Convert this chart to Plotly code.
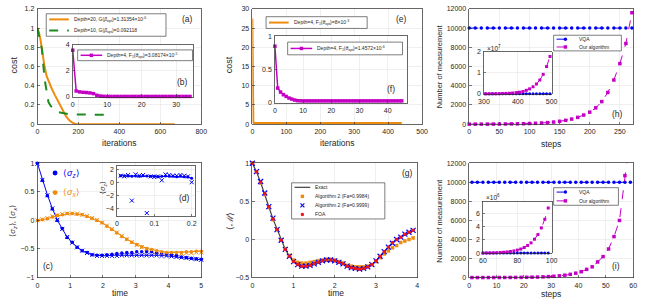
import plotly.graph_objects as go

W, H = 646, 305
FONT = "Liberation Sans, Arial, sans-serif"
AXC = "#262626"
GRID = "#E4E4E4"
ORANGE = "#EF8A0C"
GREEN = "#1F8A1F"
MAG = "#C400C4"
BLUE = "#0000F2"
RED = "#F21414"

# ---------------- data ----------------
# (a) cost vs iterations
a_iter_d20 = [0, 8, 15, 25, 35, 45, 55, 70, 86, 100, 115, 126, 140, 158, 175, 190, 200, 300, 400, 500, 600, 670]
a_cost_d20 = [1.0, 0.95, 0.88, 0.72, 0.60, 0.50, 0.44, 0.37, 0.30, 0.24, 0.18, 0.13, 0.08, 0.035, 0.01, 0.0, 0.0, 0.0, 0.0, 0.0, 0.0, 0.0]
a_iter_d10 = [0, 10, 22, 35, 45, 54, 65, 78, 90, 102, 120, 150, 200, 250, 300, 366]
a_cost_d10 = [1.0, 0.90, 0.78, 0.47, 0.32, 0.23, 0.19, 0.16, 0.135, 0.125, 0.115, 0.105, 0.10, 0.10, 0.098, 0.098]
# (b) inset
b_iter = list(range(0, 35))
b_cost = [3.6, 0.45, 0.38, 0.35, 0.33, 0.30, 0.25, 0.12, 0.06, 0.04, 0.03, 0.03, 0.03, 0.03, 0.03, 0.03, 0.03,
          0.03, 0.03, 0.03, 0.03, 0.03, 0.03, 0.03, 0.03, 0.03, 0.03, 0.03, 0.03, 0.03, 0.03, 0.03, 0.03, 0.03, 0.03]
# (e)
e_iter = [0, 1, 2, 3, 5, 10, 50, 100, 200, 300, 400, 440]
e_cost = [27.5, 8.0, 0.8, 0.4, 0.3, 0.3, 0.3, 0.3, 0.3, 0.3, 0.3, 0.3]
# (f) inset
f_iter = list(range(0, 46))
f_cost = [0.85, 0.22, 0.16, 0.12, 0.094, 0.07, 0.054, 0.04, 0.03, 0.028, 0.027, 0.027, 0.027, 0.027, 0.027, 0.027,
          0.027, 0.027, 0.027, 0.027, 0.027, 0.027, 0.027, 0.027, 0.027, 0.027, 0.027, 0.027, 0.027, 0.027, 0.027,
          0.027, 0.027, 0.027, 0.027, 0.027, 0.027, 0.027, 0.027, 0.027, 0.027, 0.027, 0.027, 0.027, 0.027, 0.027]
# (h) measurements
h_steps = [0, 10, 20, 30, 40, 50, 60, 70, 80, 90, 100, 110, 120, 130, 140, 150, 160, 170, 180, 190, 200, 210,
           220, 230, 240, 250, 260, 270]
h_vqa = [10000] * 28
h_ours = [3, 4, 6, 8, 10, 15, 20, 30, 40, 50, 70, 90, 120, 165, 220, 300, 400, 530, 710, 950, 1250, 1700, 2350,
          3300, 4600, 6300, 8400, 11600]
hi_steps = [305, 315, 325, 335, 345, 355, 365, 375, 385, 395, 405, 415, 425, 435, 445, 455, 465, 475, 485, 495]
hi_vqa = [10000] * 20
hi_ours = [3e4, 4e4, 6e4, 8e4, 1.1e5, 1.6e5, 2.2e5, 3.0e5, 4.2e5, 5.8e5, 8.0e5, 1.1e6, 1.7e6, 2.4e6, 3.4e6,
           4.7e6, 6.6e6, 9.3e6, 1.3e7, 1.78e7]
# (c) spin expectation values
c_time = [0.0, 0.152, 0.303, 0.455, 0.606, 0.758, 0.909, 1.061, 1.212, 1.364, 1.515, 1.667, 1.818, 1.970, 2.121,
          2.273, 2.424, 2.576, 2.727, 2.879, 3.030, 3.182, 3.333, 3.485, 3.636, 3.788, 3.939, 4.091, 4.242, 4.394,
          4.545, 4.697, 4.848, 5.0]
c_sz_exact = [1.0, 0.72, 0.45, 0.21, 0.01, -0.15, -0.29, -0.39, -0.47, -0.53, -0.57, -0.60, -0.61, -0.62, -0.62,
              -0.61, -0.61, -0.60, -0.60, -0.60, -0.60, -0.60, -0.60, -0.60, -0.61, -0.61, -0.62, -0.63, -0.64,
              -0.65, -0.66, -0.67, -0.68, -0.69]
c_sz_dots = [1.0, 0.70, 0.43, 0.20, 0.0, -0.14, -0.30, -0.38, -0.47, -0.53, -0.56, -0.60, -0.61, -0.61, -0.60,
             -0.59, -0.58, -0.57, -0.56, -0.56, -0.55, -0.55, -0.55, -0.55, -0.56, -0.57, -0.58, -0.60, -0.62,
             -0.64, -0.65, -0.66, -0.67, -0.68]
c_sz_cross = [0.99, 0.71, 0.44, 0.21, 0.01, -0.15, -0.29, -0.39, -0.47, -0.53, -0.57, -0.60, -0.62, -0.62, -0.62,
              -0.62, -0.62, -0.61, -0.61, -0.61, -0.61, -0.61, -0.61, -0.61, -0.61, -0.62, -0.62, -0.63, -0.64,
              -0.65, -0.66, -0.67, -0.68, -0.69]
c_sx_exact = [0.0, 0.01, 0.03, 0.06, 0.08, 0.10, 0.11, 0.12, 0.11, 0.10, 0.07, 0.04, 0.0, -0.04, -0.10, -0.16,
              -0.22, -0.28, -0.33, -0.38, -0.42, -0.46, -0.49, -0.51, -0.53, -0.55, -0.56, -0.56, -0.56, -0.56,
              -0.55, -0.55, -0.54, -0.54]
c_sx_dots = [0.0, 0.01, 0.03, 0.06, 0.09, 0.10, 0.12, 0.12, 0.11, 0.10, 0.07, 0.04, 0.0, -0.04, -0.10, -0.16,
             -0.22, -0.28, -0.33, -0.38, -0.42, -0.46, -0.49, -0.51, -0.53, -0.55, -0.56, -0.56, -0.56, -0.56,
             -0.55, -0.55, -0.54, -0.54]
c_sx_cross = [0.0, 0.02, 0.04, 0.07, 0.09, 0.11, 0.12, 0.12, 0.12, 0.10, 0.08, 0.04, 0.01, -0.04, -0.09, -0.15,
              -0.21, -0.27, -0.33, -0.38, -0.43, -0.47, -0.50, -0.53, -0.55, -0.57, -0.58, -0.58, -0.58, -0.58,
              -0.57, -0.57, -0.56, -0.56]
# (d) inset
d_time = [0.01, 0.02, 0.03, 0.04, 0.05, 0.06, 0.07, 0.08, 0.09, 0.10, 0.11, 0.12, 0.13, 0.14, 0.15, 0.16, 0.17,
          0.18, 0.19, 0.20]
d_dots = [1.0, 1.0, 0.95, 0.9, 0.95, 0.9, 1.0, 0.95, 0.9, 0.9, 0.85, 0.9, 0.95, 0.9, 0.9, 0.85, 0.9, 0.85, 0.8, 0.6]
d_cross = [1.0, 0.9, 1.1, -2.8, 1.2, 1.0, 1.1, -4.7, 0.9, 0.8, 0.9, 0.3, 1.2, 1.1, 1.0, 1.0, 1.1, 1.0, 0.9, 0.0]
# (g) magnetisation
g_time = [0.0, 0.1, 0.2, 0.3, 0.4, 0.5, 0.6, 0.7, 0.8, 0.9, 1.0, 1.1, 1.2, 1.3, 1.4, 1.5, 1.6, 1.7, 1.8, 1.9, 2.0,
          2.1, 2.2, 2.3, 2.4, 2.5, 2.6, 2.7, 2.8, 2.9, 3.0, 3.1, 3.2, 3.3, 3.4, 3.5, 3.6, 3.7, 3.8, 3.9]
g_exact = [1.0, 0.89, 0.75, 0.60, 0.43, 0.27, 0.13, -0.01, -0.13, -0.22, -0.29, -0.33, -0.35, -0.35, -0.34, -0.32,
           -0.30, -0.28, -0.27, -0.27, -0.28, -0.30, -0.32, -0.35, -0.37, -0.38, -0.39, -0.38, -0.36, -0.33, -0.28,
           -0.22, -0.16, -0.10, -0.04, 0.0, 0.03, 0.07, 0.095, 0.12]
g_alg_9984 = [1.0, 0.89, 0.74, 0.59, 0.42, 0.26, 0.13, -0.01, -0.12, -0.21, -0.27, -0.30, -0.31, -0.31, -0.30,
              -0.29, -0.28, -0.27, -0.26, -0.26, -0.27, -0.29, -0.31, -0.34, -0.35, -0.36, -0.36, -0.36, -0.35,
              -0.33, -0.29, -0.24, -0.19, -0.15, -0.11, -0.08, -0.04, -0.02, 0.0, 0.02]
g_alg_9999 = [1.0, 0.89, 0.76, 0.61, 0.43, 0.28, 0.13, -0.01, -0.13, -0.22, -0.29, -0.33, -0.35, -0.35, -0.34,
              -0.32, -0.30, -0.28, -0.27, -0.27, -0.28, -0.30, -0.32, -0.35, -0.37, -0.38, -0.39, -0.38, -0.36,
              -0.33, -0.28, -0.22, -0.16, -0.10, -0.05, 0.0, 0.03, 0.07, 0.095, 0.12]
g_foa = [1.0, 0.89, 0.75, 0.60, 0.43, 0.27, 0.13, -0.01, -0.13, -0.22, -0.29, -0.33, -0.35, -0.35, -0.34, -0.32,
         -0.30, -0.28, -0.27, -0.27, -0.28, -0.30, -0.32, -0.35, -0.37, -0.38, -0.39, -0.38, -0.36, -0.33, -0.28,
         -0.22, -0.16, -0.10, -0.04, 0.0, 0.03, 0.07, 0.095, 0.12]
# (i) measurements
i_steps = [1, 3, 5, 7, 9, 11, 13, 15, 17, 19, 21, 23, 25, 27, 29, 31, 33, 35, 37, 39, 41, 43, 45, 47, 49, 51, 53,
           55, 57, 59]
i_vqa = [10000] * 30
i_ours = [1.5, 2, 3, 4, 5, 7, 9, 12, 16, 22, 30, 40, 55, 75, 100, 137, 185, 250, 340, 460, 620, 860, 1130, 1640,
          2200, 3000, 4300, 6000, 10700, 15000]
ii_steps = [60, 62, 64, 66, 68, 70, 72, 74, 76, 78, 80, 82, 84, 86, 88, 90, 92, 94, 96, 98]
ii_vqa = [10000] * 20
ii_ours = [2e4, 3e4, 4e4, 5e4, 7e4, 1.0e5, 1.3e5, 1.8e5, 2.5e5, 3.4e5, 4.6e5, 6.2e5, 8.5e5, 1.15e6, 1.55e6,
           2.1e6, 2.8e6, 3.8e6, 5.1e6, 6.8e6]

# ---------------- layout helpers ----------------
def xd(a, b):
    return [a / W, b / W]


def yd(top, bottom):
    return [1 - bottom / H, 1 - top / H]


def axis(dom, rng, anchor, fs=7, **kw):
    d = dict(domain=dom, range=rng, anchor=anchor, showgrid=True, gridcolor=GRID, gridwidth=0.6,
             showline=True, mirror=True, linecolor=AXC, linewidth=0.7, ticks="inside", ticklen=2.5,
             tickwidth=0.6, tickcolor=AXC, tickfont=dict(size=fs, color=AXC, family=FONT),
             zeroline=False, fixedrange=True, layer="above traces", ticklabelstandoff=1)
    d.update(kw)
    return d


fig = go.Figure()

# (a)
fig.add_trace(go.Scatter(x=a_iter_d20, y=a_cost_d20, mode="lines", line=dict(color=ORANGE, width=2),
                         xaxis="x", yaxis="y"))
fig.add_trace(go.Scatter(x=a_iter_d10, y=a_cost_d10, mode="lines", line=dict(color=GREEN, width=2, dash="dash"),
                         xaxis="x", yaxis="y"))
# (b)
fig.add_trace(go.Scatter(x=b_iter, y=b_cost, mode="lines+markers", line=dict(color=MAG, width=1.5),
                         marker=dict(symbol="square", size=3.5, color=MAG), cliponaxis=False,
                         xaxis="x2", yaxis="y2"))
# (e)
fig.add_trace(go.Scatter(x=e_iter, y=e_cost, mode="lines", line=dict(color=ORANGE, width=2),
                         xaxis="x3", yaxis="y3"))
# (f)
fig.add_trace(go.Scatter(x=f_iter, y=f_cost, mode="lines+markers", line=dict(color=MAG, width=1.5),
                         marker=dict(symbol="square", size=3.5, color=MAG), cliponaxis=False,
                         xaxis="x4", yaxis="y4"))


def meas_traces(xs, vqa, ours, xa, ya, ymax, msize=3.5):
    fig.add_trace(go.Scatter(x=xs, y=vqa, mode="lines+markers", line=dict(color=BLUE, width=1, dash="dash"),
                             marker=dict(symbol="circle", size=msize, color=BLUE), cliponaxis=False,
                             xaxis=xa, yaxis=ya))
    fig.add_trace(go.Scatter(x=xs, y=ours, mode="lines", line=dict(color=MAG, width=1, dash="dash"),
                             xaxis=xa, yaxis=ya))
    keep = [(x, y) for x, y in zip(xs, ours) if y <= ymax]
    fig.add_trace(go.Scatter(x=[k[0] for k in keep], y=[k[1] for k in keep], mode="markers",
                             marker=dict(symbol="square", size=msize, color=MAG), cliponaxis=False,
                             xaxis=xa, yaxis=ya))


# (h)
meas_traces(h_steps, h_vqa, h_ours, "x5", "y5", 12000)
meas_traces(hi_steps, hi_vqa, hi_ours, "x6", "y6", 2e7, msize=3)
# (c)
fig.add_trace(go.Scatter(x=c_time, y=c_sz_exact, mode="lines", line=dict(color=BLUE, width=1),
                         xaxis="x7", yaxis="y7"))
fig.add_trace(go.Scatter(x=c_time, y=c_sx_exact, mode="lines", line=dict(color=ORANGE, width=1),
                         xaxis="x7", yaxis="y7"))
fig.add_trace(go.Scatter(x=c_time, y=c_sz_cross, mode="markers", marker=dict(symbol="x-thin", size=4,
                         line=dict(color=BLUE, width=1)), cliponaxis=False, xaxis="x7", yaxis="y7"))
fig.add_trace(go.Scatter(x=c_time, y=c_sx_cross, mode="markers", marker=dict(symbol="x-thin", size=4,
                         line=dict(color=ORANGE, width=1)), cliponaxis=False, xaxis="x7", yaxis="y7"))
fig.add_trace(go.Scatter(x=c_time, y=c_sz_dots, mode="markers", marker=dict(symbol="circle", size=3.5, color=BLUE),
                         cliponaxis=False, xaxis="x7", yaxis="y7"))
fig.add_trace(go.Scatter(x=c_time, y=c_sx_dots, mode="markers", marker=dict(symbol="circle", size=3.5, color=ORANGE),
                         cliponaxis=False, xaxis="x7", yaxis="y7"))
# (d)
fig.add_trace(go.Scatter(x=d_time, y=d_cross, mode="markers", marker=dict(symbol="x-thin", size=4,
                         line=dict(color=BLUE, width=1)), cliponaxis=False, xaxis="x8", yaxis="y8"))
fig.add_trace(go.Scatter(x=d_time, y=d_dots, mode="lines+markers", line=dict(color=BLUE, width=1),
                         marker=dict(symbol="circle", size=3, color=BLUE), cliponaxis=False,
                         xaxis="x8", yaxis="y8"))
# (g)
fig.add_trace(go.Scatter(x=g_time, y=g_exact, mode="lines", line=dict(color="#404040", width=1.2),
                         xaxis="x9", yaxis="y9"))
fig.add_trace(go.Scatter(x=g_time, y=g_alg_9984, mode="markers", marker=dict(symbol="square", size=3.5, color=ORANGE),
                         cliponaxis=False, xaxis="x9", yaxis="y9"))
fig.add_trace(go.Scatter(x=g_time, y=g_alg_9999, mode="markers", marker=dict(symbol="x-thin", size=5,
                         line=dict(color=BLUE, width=1.2)), cliponaxis=False, xaxis="x9", yaxis="y9"))
fig.add_trace(go.Scatter(x=g_time, y=g_foa, mode="markers", marker=dict(symbol="circle", size=3.5, color=RED),
                         cliponaxis=False, xaxis="x9", yaxis="y9"))
# (i)
meas_traces(i_steps, i_vqa, i_ours, "x10", "y10", 12000)
meas_traces(ii_steps, ii_vqa, ii_ours, "x11", "y11", 7.8e6, msize=3)

fig.update_traces(showlegend=False, hoverinfo="skip")

# ---------------- axes ----------------
R = {}
R["a"] = ([0, 800], [0, 1.2])
R["b"] = ([0, 35], [0, 4])
R["e"] = ([0, 500], [0, 30])
R["f"] = ([0, 47], [0, 1])
R["h"] = ([0, 272], [0, 12000])
R["hi"] = ([300, 500], [0, 2e7])
R["c"] = ([0, 5], [-1, 1])
R["d"] = ([0, 0.21], [-5.15, 2.45])
R["g"] = ([0, 4], [-0.5, 1])
R["i"] = ([0, 60], [0, 12000])
R["ii"] = ([60, 100], [0, 7.8e6])

layout_axes = dict(
    xaxis=axis(xd(32, 199), R["a"][0], "y", dtick=200),
    yaxis=axis(yd(5, 123), R["a"][1], "x", dtick=0.2),
    xaxis2=axis(xd(68, 191), R["b"][0], "y2", dtick=10),
    yaxis2=axis(yd(42, 95), R["b"][1], "x2", dtick=2),
    xaxis3=axis(xd(251, 424), R["e"][0], "y3", dtick=100),
    yaxis3=axis(yd(5, 123), R["e"][1], "x3", dtick=5),
    xaxis4=axis(xd(274, 409), R["f"][0], "y4", dtick=10),
    yaxis4=axis(yd(33, 101), R["f"][1], "x4", dtick=0.5),
    xaxis5=axis(xd(472, 639), R["h"][0], "y5", dtick=50),
    yaxis5=axis(yd(5, 123), R["h"][1], "x5", dtick=2000, tickformat="d"),
    xaxis6=axis(xd(487, 556), R["hi"][0], "y6", dtick=100),
    yaxis6=axis(yd(49, 92), R["hi"][1], "x6", tickvals=[0, 1e7, 2e7], ticktext=["0", "1", "2"]),
    xaxis7=axis(xd(32, 199), R["c"][0], "y7", dtick=1),
    yaxis7=axis(yd(163, 280), R["c"][1], "x7", dtick=0.5),
    xaxis8=axis(xd(113, 193), R["d"][0], "y8", dtick=0.1),
    yaxis8=axis(yd(166, 217), R["d"][1], "x8", tickvals=[-4, -2, 0, 2]),
    xaxis9=axis(xd(251, 419), R["g"][0], "y9", dtick=1),
    yaxis9=axis(yd(163, 280), R["g"][1], "x9", dtick=0.5),
    xaxis10=axis(xd(472, 639), R["i"][0], "y10", dtick=10),
    yaxis10=axis(yd(163, 280), R["i"][1], "x10", dtick=2000, tickformat="d"),
    xaxis11=axis(xd(486, 556), R["ii"][0], "y11", dtick=20),
    yaxis11=axis(yd(202, 255), R["ii"][1], "x11", tickvals=[0, 2e6, 4e6, 6e6], ticktext=["0", "2", "4", "6"]),
)

shapes = []
annots = []

# opaque backgrounds for inset axes
for key, n in [("b", 2), ("f", 4), ("hi", 6), ("d", 8), ("ii", 11)]:
    xr, yr = R[key]
    shapes.append(dict(type="rect", xref=f"x{n}", yref=f"y{n}", x0=xr[0], x1=xr[1], y0=yr[0], y1=yr[1],
                       fillcolor="white", line=dict(width=0), layer="below"))


def P(x, y):
    return x / W, 1 - y / H


def text(t, x, y, size=8, color=AXC, angle=0, xanchor="center", yanchor="middle"):
    px_, py_ = P(x, y)
    annots.append(dict(text=t, x=px_, y=py_, xref="paper", yref="paper", showarrow=False, textangle=angle,
                       xanchor=xanchor, yanchor=yanchor, font=dict(size=size, color=color, family=FONT)))


def legend_box(x0, y0, x1, y1, entries, L=15, fs=5, border=True):
    if border:
        a0, b0 = P(x0, y1)
        a1, b1 = P(x1, y0)
        shapes.append(dict(type="rect", xref="paper", yref="paper", x0=a0, x1=a1, y0=b0, y1=b1,
                           fillcolor="white", line=dict(color=AXC, width=0.6), layer="above"))
    n = len(entries)
    hrow = (y1 - y0) / n
    for i, e in enumerate(entries):
        cy = y0 + (i + 0.5) * hrow
        sx0 = x0 + 3
        sx1 = sx0 + L
        if e.get("line"):
            a0, b0 = P(sx0, cy)
            a1, _ = P(sx1, cy)
            shapes.append(dict(type="line", xref="paper", yref="paper", x0=a0, x1=a1, y0=b0, y1=b0,
                               line=dict(color=e["color"], width=e.get("width", 1), dash=e.get("dash", "solid")),
                               layer="above"))
        m = e.get("marker")
        if m:
            s = e.get("msize", 3.5) / 2
            cx = (sx0 + sx1) / 2
            mc = e.get("mcolor", e.get("color"))
            a0, b0 = P(cx - s, cy + s)
            a1, b1 = P(cx + s, cy - s)
            if m == "square":
                shapes.append(dict(type="rect", xref="paper", yref="paper", x0=a0, x1=a1, y0=b0, y1=b1,
                                   fillcolor=mc, line=dict(width=0), layer="above"))
            elif m == "circle":
                shapes.append(dict(type="circle", xref="paper", yref="paper", x0=a0, x1=a1, y0=b0, y1=b1,
                                   fillcolor=mc, line=dict(width=0), layer="above"))
            elif m == "x":
                shapes.append(dict(type="line", xref="paper", yref="paper", x0=a0, x1=a1, y0=b0, y1=b1,
                                   line=dict(color=mc, width=1.1), layer="above"))
                shapes.append(dict(type="line", xref="paper", yref="paper", x0=a0, x1=a1, y0=b1, y1=b0,
                                   line=dict(color=mc, width=1.1), layer="above"))
        text(e["text"], sx1 + 3, cy, size=e.get("fs", fs), color=e.get("tcolor", AXC), xanchor="left")


legend_box(41, 10, 163, 33, [
    dict(text="Depth=20, G(<i>β</i><sub>opt</sub>)=1.31354×10<sup>-6</sup>", line=True, color=ORANGE, width=2),
    dict(text="Depth=10, G(<i>β</i><sub>opt</sub>)=0.092118", line=True, color=GREEN, width=2, dash="dash"),
], L=20)
legend_box(73, 47, 190, 58, [
    dict(text="Depth=4, F<sub>1</sub>(<i>θ</i><sub>opt</sub>)=3.08174×10<sup>-5</sup>", line=True, color=MAG,
         width=1.5, marker="square"),
], L=22)
legend_box(265, 13, 368, 25, [
    dict(text="Depth=4, F<sub>1</sub>(<i>θ</i><sub>opt</sub>)=8×10<sup>-3</sup>", line=True, color=ORANGE, width=2),
], L=20)
legend_box(287, 39, 404, 52, [
    dict(text="Depth=4, F<sub>1</sub>(<i>θ</i><sub>opt</sub>)=1.4572×10<sup>-6</sup>", line=True, color=MAG,
         width=1.5, marker="square"),
], L=22)
legend_box(558, 32, 627, 48, [
    dict(text="VQA", line=True, color=BLUE, dash="dash", marker="circle"),
    dict(text="Our algorithm", line=True, color=MAG, dash="dash", marker="square"),
], L=18)
legend_box(558, 188, 624, 206, [
    dict(text="VQA", line=True, color=BLUE, dash="dash", marker="circle"),
    dict(text="Our algorithm", line=True, color=MAG, dash="dash", marker="square"),
], L=18)
legend_box(291, 183, 386, 220, [
    dict(text="Exact", line=True, color="#404040", width=1.2),
    dict(text="Algorithm 2 (Fa=0.9984)", marker="square", mcolor=ORANGE),
    dict(text="Algorithm 2 (Fa=0.9999)", marker="x", mcolor=BLUE, msize=4),
    dict(text="FOA", marker="circle", mcolor=RED),
], L=16)
legend_box(44, 163, 80, 203, [
    dict(text="⟨<i>σ<sub>z</sub></i>⟩", marker="circle", mcolor=BLUE, msize=5, tcolor=BLUE, fs=9),
    dict(text="⟨<i>σ<sub>x</sub></i>⟩", marker="circle", mcolor=ORANGE, msize=5, tcolor=ORANGE, fs=9),
], L=6, border=False)

# panel labels
for lab, x, y in [("(a)", 185, 15), ("(b)", 180, 80), ("(e)", 403, 15), ("(f)", 392, 87), ("(h)", 623, 113),
                  ("(c)", 43, 268), ("(d)", 182, 199), ("(g)", 409, 173), ("(i)", 622, 268)]:
    text(lab, x, y, size=8.5)

# axis titles
text("cost", 8, 62, size=9, angle=-90)
text("iterations", 116, 142, size=8.5)
text("cost", 227, 62, size=9, angle=-90)
text("iterations", 338, 142, size=8.5)
text("Number of measurement", 442, 64, size=7.5, angle=-90)
text("steps", 555, 143, size=8.5)
text("⟨<i>σ<sub>z</sub></i>⟩, ⟨<i>σ<sub>x</sub></i>⟩", 7, 222, size=8, angle=-90)
text("time", 116, 296, size=8.5)
text("⟨<i>σ<sub>z</sub></i>⟩", 99, 188, size=7, angle=-90)
text("⟨<i>ℳ</i>⟩", 228, 222, size=9, angle=-90)
text("time", 336, 296, size=8.5)
text("Number of measurement", 442, 222, size=7.5, angle=-90)
text("steps", 555, 297, size=8.5)
# exponent labels of insets
text("×10<sup>7</sup>", 488, 45, size=6.5, xanchor="left")
text("×10<sup>6</sup>", 487, 198, size=6.5, xanchor="left")

fig.update_layout(
    width=W, height=H, margin=dict(l=0, r=0, t=0, b=0),
    paper_bgcolor="white", plot_bgcolor="white",
    font=dict(family=FONT, size=7, color=AXC),
    showlegend=False, shapes=shapes, annotations=annots,
    **layout_axes,
)

fig.write_html("out.html", config={"displayModeBar": False, "staticPlot": True},
               post_script="document.body.style.margin='0';document.body.style.overflow='hidden';")
